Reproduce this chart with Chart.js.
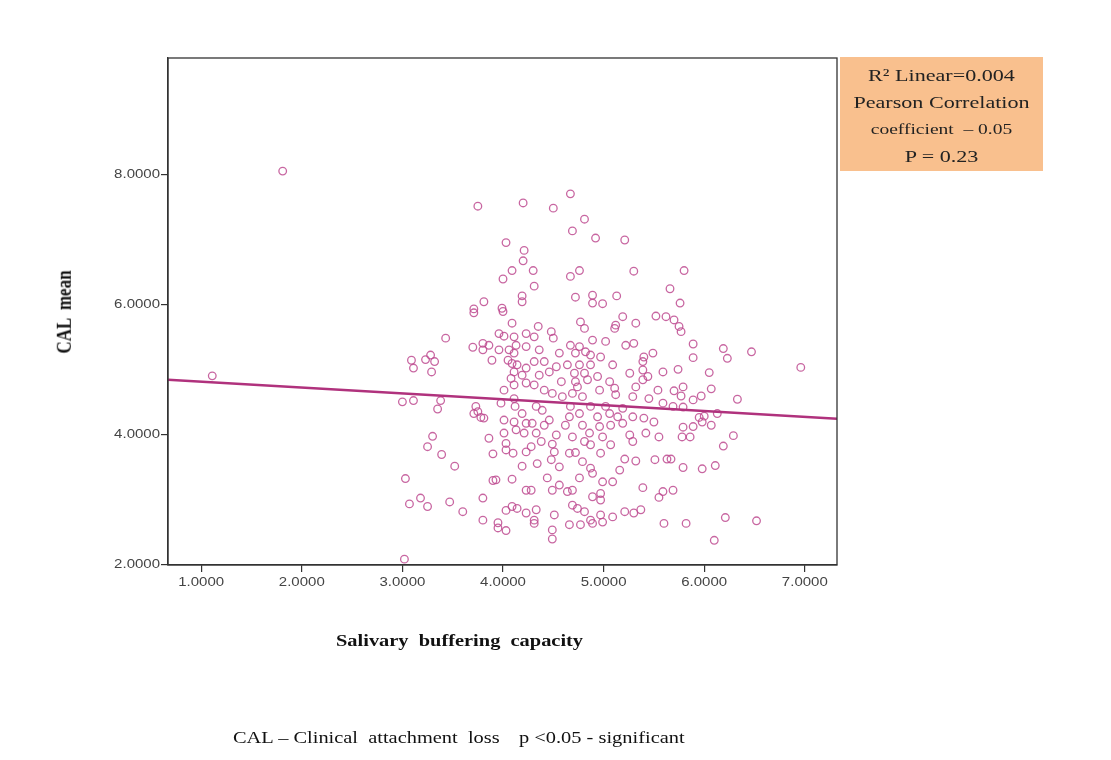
<!DOCTYPE html>
<html>
<head>
<meta charset="utf-8">
<title>CAL mean vs salivary buffering capacity</title>
<script src="https://cdn.jsdelivr.net/npm/chart.js@4.4.0/dist/chart.umd.min.js"></script>
<style>
  html, body { margin: 0; padding: 0; background: #fff; }
  #wrap { position: relative; width: 1111px; height: 760px; overflow: hidden; }
  #plot { position: absolute; left: 0; top: 0; }
  .serif { font-family: "Liberation Serif", "Times New Roman", serif; color: #111; }
  .pre { white-space: pre; }
  .note {
    position: absolute; left: 840px; top: 57px; width: 203px; height: 114px;
    background: #f9c08e; color: #222; text-align: center;
    font-size: 17px; line-height: 27px; padding-top: 5px; box-sizing: border-box;
  }
  .note div { transform: scaleX(1.3); white-space: pre; }
  .note .small { font-size: 15px; }
  .xtitle { position: absolute; left: 336px; top: 630px; font-size: 17px; font-weight: bold;
    line-height: 22px; transform: scaleX(1.2); transform-origin: left center; }
  .ytitle { position: absolute; left: 65px; top: 312px; font-size: 17px; font-weight: bold;
    line-height: 22px; transform: translate(-50%, -50%) scaleX(1.2) rotate(-90deg); }
  .caption { position: absolute; top: 728px; font-size: 17px; line-height: 20px;
    transform: scaleX(1.2); transform-origin: left center; }
</style>
</head>
<body>
<div id="wrap">
  <canvas id="plot" width="1111" height="760"></canvas>
  <div class="note serif"><div>R² Linear=0.004</div><div>Pearson Correlation</div><div class="small">coefficient  – 0.05</div><div>P = 0.23</div></div>
  <div class="xtitle serif pre">Salivary  buffering  capacity</div>
  <div class="ytitle serif pre">CAL  mean</div>
  <div class="caption serif pre" style="left:233px">CAL – Clinical  attachment  loss</div>
  <div class="caption serif pre" style="left:519px">p &lt;0.05 - significant</div>
</div>
<script>
// values (x = salivary buffering capacity, y = CAL mean)
const bufferCapacity = [
  1.11, 1.81, 3.02, 6.96,
  3.75, 4.20, 4.03, 4.21, 4.20, 4.09, 4.00, 4.19, 4.19, 3.81, 3.71, 3.99,
  4.67, 4.50, 4.81, 4.69, 4.92, 5.21, 4.30, 4.76, 4.67, 5.30, 4.31, 4.72, 4.89, 4.89, 4.99, 5.13, 5.66,
  5.80, 5.76,
  3.71, 3.43, 3.09, 3.11, 3.23, 3.28, 3.32, 3.29, 3.00, 3.11, 3.38, 3.35, 3.30, 3.70, 3.80, 3.86, 3.80, 3.89,
  4.00, 3.96, 4.01, 4.09, 4.11, 4.23, 3.96, 4.06, 4.13, 4.11, 4.23, 4.05, 4.09, 4.14, 4.11, 4.23, 4.08, 4.19,
  4.11, 4.23, 4.01, 4.11, 3.98, 3.73, 3.75, 3.71, 3.78, 3.81, 4.01, 4.12, 4.19, 4.11, 4.13, 4.01, 3.86, 4.23, 4.21,
  4.35, 4.48, 4.50, 4.77, 4.81, 5.12, 5.19, 5.32, 5.52, 5.62, 5.11, 4.31,
  4.89, 5.02, 5.22, 5.30, 4.67, 4.76, 4.36, 4.56, 4.72, 4.82, 4.87, 4.97, 5.40, 5.49, 5.39, 4.31, 4.41,
  4.53, 4.64, 4.76, 4.87, 5.09, 4.36, 4.46, 4.71, 4.81, 4.94, 5.26, 5.39, 5.59, 4.58, 4.72, 4.74, 4.84, 5.06,
  5.39, 5.44, 5.54, 5.32, 4.31, 4.41,
  4.49, 4.59, 4.69, 4.79, 4.96, 5.11, 5.12, 5.29, 5.45, 4.33, 4.39, 4.67, 4.87, 5.02, 5.19, 5.59,
  4.66, 4.76, 4.94, 5.06, 5.14, 5.29, 5.40, 5.50, 4.46, 4.29, 4.41, 4.62, 4.79, 4.96, 5.07, 5.19,
  4.33, 4.53, 4.69, 4.86, 4.99, 5.26, 5.42, 5.55,
  5.70, 5.75, 5.77, 5.89, 6.19, 6.47, 5.89, 6.23, 5.74, 6.05, 5.79, 5.70, 5.77, 6.07, 5.89, 5.97, 6.33,
  5.69, 5.79, 6.13, 5.95, 6.00, 5.98, 6.07, 5.79, 5.89, 5.78, 5.86, 6.29,
  3.25, 3.39, 3.52, 3.03, 3.90, 4.03, 4.03, 4.10, 4.23, 4.19, 3.90, 3.93, 4.09, 4.23, 3.18, 3.07, 3.25, 3.47,
  3.80, 3.60, 4.03, 4.09, 4.14, 4.23, 3.80, 3.95, 3.95, 4.03,
  4.38, 4.49, 4.51, 4.28, 4.66, 4.72, 4.81, 4.87, 4.97, 5.07, 5.29, 4.34, 4.48, 4.56, 4.79, 4.87, 4.89, 5.16,
  5.21, 5.32, 5.51, 5.63, 4.44, 4.76, 4.99, 5.09, 4.28, 4.49, 4.56, 4.64, 4.69, 4.89, 4.97, 4.97, 5.39, 5.55,
  5.59, 4.69, 4.74, 4.81, 4.33, 4.51, 4.87, 4.97, 5.09, 5.21, 5.30, 5.37, 4.31, 4.31, 4.66, 4.77, 4.89, 4.99,
  4.49, 4.49, 5.60,
  6.19, 5.67, 5.79, 5.98, 6.11, 5.69, 5.82, 6.21, 6.52, 6.10
];
const calMean = [
  4.91, 8.06, 2.09, 5.04,
  7.52, 7.57, 6.96, 6.84, 6.68, 6.53, 6.40, 6.14, 6.05, 6.05, 5.94, 5.95,
  7.71, 7.49, 7.32, 7.14, 7.03, 7.00, 6.53, 6.53, 6.44, 6.52, 6.29, 6.12, 6.15, 6.03, 6.02, 6.14, 6.25,
  6.53, 6.03,
  5.88, 5.49, 5.15, 5.03, 5.16, 5.23, 5.13, 4.97, 4.51, 4.53, 4.53, 4.40, 3.98, 5.35, 5.41, 5.38, 5.31, 5.15,
  5.90, 5.56, 5.52, 5.72, 5.51, 5.56, 5.31, 5.31, 5.38, 5.26, 5.36, 5.15, 5.10, 5.08, 4.97, 5.03, 4.87, 4.92,
  4.77, 4.80, 4.69, 4.56, 4.49, 4.44, 4.36, 4.33, 4.27, 4.26, 4.23, 4.44, 4.33, 4.20, 4.08, 4.03, 3.95, 4.18, 4.03,
  5.67, 5.59, 5.49, 5.74, 5.64, 5.69, 5.82, 5.72, 5.83, 5.82, 5.64, 5.51,
  5.46, 5.44, 5.38, 5.41, 5.38, 5.36, 5.31, 5.26, 5.26, 5.28, 5.23, 5.20, 5.20, 5.26, 5.13, 5.13, 5.13,
  5.05, 5.08, 5.08, 5.08, 5.08, 4.92, 4.97, 4.95, 4.95, 4.90, 4.95, 5.00, 4.97, 4.82, 4.82, 4.74, 4.85, 4.82,
  4.85, 4.90, 4.69, 4.74, 4.77, 4.69,
  4.64, 4.59, 4.64, 4.59, 4.69, 4.72, 4.62, 4.59, 4.56, 4.44, 4.38, 4.44, 4.44, 4.44, 4.41, 4.49,
  4.28, 4.33, 4.28, 4.33, 4.28, 4.28, 4.26, 4.20, 4.23, 4.18, 4.15, 4.15, 4.15, 4.13, 4.15, 4.18,
  4.03, 4.00, 3.97, 4.03, 3.97, 4.00, 4.03, 3.97,
  5.77, 5.67, 5.59, 5.40, 5.33, 5.28, 5.19, 5.18, 5.01, 4.96, 4.74, 4.68, 4.60, 4.71, 4.54, 4.60, 4.55,
  4.44, 4.43, 4.33, 4.27, 4.29, 4.20, 4.15, 4.12, 4.13, 3.97, 3.97, 3.99,
  3.82, 3.70, 3.52, 3.33, 3.71, 3.87, 3.77, 3.72, 3.74, 3.52, 3.30, 3.31, 3.32, 3.15, 3.03, 2.94, 2.90, 2.97,
  3.03, 2.82, 2.84, 2.90, 2.87, 2.80, 2.69, 2.65, 2.57, 2.53,
  3.90, 3.86, 3.74, 3.82, 3.72, 3.73, 3.90, 3.85, 3.72, 3.85, 3.90, 3.56, 3.62, 3.51, 3.59, 3.49, 3.41, 3.46,
  3.63, 3.60, 3.62, 3.63, 3.34, 3.34, 3.28, 3.28, 3.15, 3.15, 3.23, 3.13, 3.15, 3.05, 3.10, 3.00, 3.19, 3.04,
  3.13, 2.92, 2.87, 2.82, 2.85, 2.77, 2.69, 2.77, 2.74, 2.82, 2.80, 2.85, 2.69, 2.64, 2.62, 2.62, 2.64, 2.66,
  2.54, 2.40, 2.64,
  3.83, 3.63, 3.50, 3.48, 3.53, 3.15, 2.64, 2.73, 2.68, 2.38
];

// axis ticks and ranges
const xTicks = [1, 2, 3, 4, 5, 6, 7];
const yTicks = [2, 4, 6, 8];
const xRange = [0.67, 7.32];
const yRange = [2.0, 9.8];

// linear fit line (R² = 0.004)
const fitIntercept = 4.91;
const fitSlope = -0.09;

const points = bufferCapacity.map((x, i) => ({x: x, y: calMean[i]}));
const fitLine = xRange.map(x => ({x: x, y: fitIntercept + fitSlope * x}));

const ctx = document.getElementById('plot').getContext('2d');

// the source figure is stretched sideways, so widen the tick labels the same way
const labelStretch = 1.25;
const rawFillText = ctx.fillText.bind(ctx);
ctx.fillText = function(text, x, y) {
  this.save();
  this.translate(x, y);
  this.scale(labelStretch, 1);
  rawFillText(text, 0, 0);
  this.restore();
};

// full box around the plot area
const frame = {
  id: 'frame',
  afterDatasetsDraw(chart) {
    const a = chart.chartArea;
    const c = chart.ctx;
    c.save();
    c.strokeStyle = '#333';
    c.lineWidth = 1.3;
    c.strokeRect(a.left, a.top, a.right - a.left, a.bottom - a.top);
    c.restore();
  }
};

const tickFont = {family: '"Liberation Sans", Arial, sans-serif', size: 12};

const chart = new Chart(ctx, {
  type: 'scatter',
  data: {
    datasets: [
      {
        type: 'line',
        label: 'Linear fit',
        data: fitLine,
        borderColor: '#b0327d',
        borderWidth: 2.5,
        pointRadius: 0,
        order: 0
      },
      {
        label: 'CAL mean',
        data: points,
        pointStyle: 'circle',
        pointRadius: 3.8,
        pointBorderWidth: 1.3,
        pointBackgroundColor: 'rgba(0,0,0,0)',
        borderColor: 'rgba(190, 75, 145, 0.85)',
        order: 1
      }
    ]
  },
  options: {
    responsive: false,
    animation: false,
    events: [],
    layout: {padding: {left: 55, top: 58, right: 274, bottom: 0}},
    plugins: {legend: {display: false}, tooltip: {enabled: false}},
    scales: {
      x: {
        type: 'linear',
        min: xRange[0],
        max: xRange[1],
        afterBuildTicks: s => { s.ticks = xTicks.map(v => ({value: v})); },
        afterFit: s => { s.height = 195; },
        ticks: {font: tickFont, color: '#444', padding: 3, callback: v => v.toFixed(4)},
        grid: {drawOnChartArea: false, drawTicks: true, tickLength: 7, color: '#333', lineWidth: 1.2},
        border: {display: true, color: '#333', width: 1.3}
      },
      y: {
        type: 'linear',
        min: yRange[0],
        max: yRange[1],
        afterBuildTicks: s => { s.ticks = yTicks.map(v => ({value: v})); },
        afterFit: s => { s.width = 113; },
        ticks: {font: tickFont, color: '#444', padding: 1, callback: v => v.toFixed(4)},
        grid: {drawOnChartArea: false, drawTicks: true, tickLength: 7, color: '#333', lineWidth: 1.2},
        border: {display: true, color: '#333', width: 1.3}
      }
    }
  },
  plugins: [frame]
});
</script>
</body>
</html>
